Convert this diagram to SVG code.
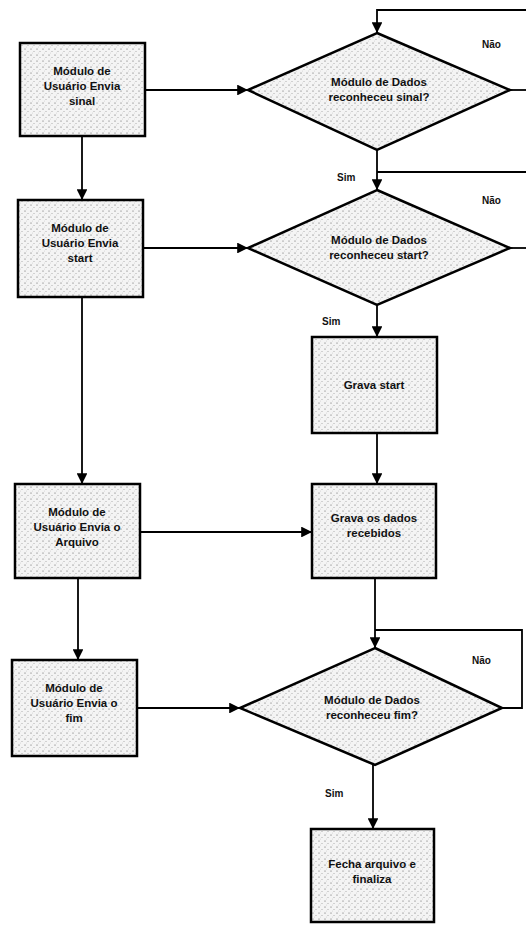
<svg xmlns="http://www.w3.org/2000/svg" width="526" height="925" viewBox="0 0 526 925">
  <defs>
    <pattern id="stipple" width="6" height="6" patternUnits="userSpaceOnUse">
      <rect width="6" height="6" fill="#f4f4f4"/>
      <circle cx="1" cy="1" r="0.55" fill="#555"/>
      <circle cx="4" cy="3.5" r="0.45" fill="#666"/>
      <circle cx="2.5" cy="5" r="0.35" fill="#888"/>
    </pattern>
    <marker id="arrow" viewBox="0 0 10 10" refX="10" refY="5" markerWidth="6" markerHeight="6" orient="auto">
      <path d="M0,0 L10,5 L0,10 z" fill="#000"/>
    </marker>
  </defs>
  <style>
    .box { fill: url(#stipple); stroke: #000; stroke-width: 2.5; }
    .dia { fill: url(#stipple); stroke: #000; stroke-width: 2.5; }
    .lbl { font-family: "Liberation Sans", Arial, sans-serif; font-size: 11.5px; font-weight: bold; fill: #111; text-anchor: middle; }
    .tag { font-family: "Liberation Sans", Arial, sans-serif; font-size: 10px; font-weight: bold; fill: #111; }
    .wire { fill: none; stroke: #000; stroke-width: 1.8; }
  </style>
  <rect width="526" height="925" fill="#fff"/>

  <g id="connectors">
    <line class="wire" x1="145" y1="90" x2="248" y2="90" marker-end="url(#arrow)"/>
    <polyline class="wire" points="510,90 526,90"/>
    <polyline class="wire" points="526,10 377,10 377,33" marker-end="url(#arrow)"/>
    <line class="wire" x1="377" y1="150" x2="377" y2="190" marker-end="url(#arrow)"/>
    <polyline class="wire" points="526,172 377,172"/>
    <polyline class="wire" points="510,248 526,248"/>
    <line class="wire" x1="82" y1="136" x2="82" y2="200" marker-end="url(#arrow)"/>
    <line class="wire" x1="143" y1="248" x2="248" y2="248" marker-end="url(#arrow)"/>
    <line class="wire" x1="377" y1="305" x2="377" y2="337" marker-end="url(#arrow)"/>
    <line class="wire" x1="82" y1="297" x2="82" y2="484" marker-end="url(#arrow)"/>
    <line class="wire" x1="377" y1="433" x2="377" y2="484" marker-end="url(#arrow)"/>
    <line class="wire" x1="140" y1="532" x2="312" y2="532" marker-end="url(#arrow)"/>
    <polyline class="wire" points="375,578 375,648" marker-end="url(#arrow)"/>
    <polyline class="wire" points="502,708 522,708 522,630 375,630"/>
    <line class="wire" x1="78" y1="578" x2="78" y2="660" marker-end="url(#arrow)"/>
    <line class="wire" x1="137" y1="708" x2="240" y2="708" marker-end="url(#arrow)"/>
    <line class="wire" x1="373" y1="765" x2="373" y2="829" marker-end="url(#arrow)"/>
    <text class="tag" x="482" y="48">Não</text>
    <text class="tag" x="337" y="181">Sim</text>
    <text class="tag" x="482" y="204">Não</text>
    <text class="tag" x="322" y="325">Sim</text>
    <text class="tag" x="472" y="664">Não</text>
    <text class="tag" x="325" y="797">Sim</text>
  </g>

  <g id="user-signal">
    <rect class="box" x="20" y="43" width="125" height="93"/>
    <text class="lbl" x="82" y="75">Módulo de</text>
    <text class="lbl" x="82" y="90">Usuário Envia</text>
    <text class="lbl" x="82" y="105">sinal</text>
  </g>

  <g id="check-signal">
    <polygon class="dia" points="377,33 510,90 377,150 248,90"/>
    <text class="lbl" x="379" y="86">Módulo de Dados</text>
    <text class="lbl" x="379" y="101">reconheceu sinal?</text>
  </g>

  <g id="user-start">
    <rect class="box" x="18" y="200" width="125" height="97"/>
    <text class="lbl" x="80" y="232">Módulo de</text>
    <text class="lbl" x="80" y="247">Usuário Envia</text>
    <text class="lbl" x="80" y="262">start</text>
  </g>

  <g id="check-start">
    <polygon class="dia" points="377,190 510,248 377,305 248,248"/>
    <text class="lbl" x="379" y="244">Módulo de Dados</text>
    <text class="lbl" x="379" y="259">reconheceu start?</text>
  </g>

  <g id="save-start">
    <rect class="box" x="312" y="337" width="125" height="96"/>
    <text class="lbl" x="374" y="389">Grava start</text>
  </g>

  <g id="user-file">
    <rect class="box" x="15" y="484" width="125" height="94"/>
    <text class="lbl" x="77" y="516">Módulo de</text>
    <text class="lbl" x="77" y="531">Usuário Envia o</text>
    <text class="lbl" x="77" y="546">Arquivo</text>
  </g>

  <g id="save-data">
    <rect class="box" x="312" y="484" width="124" height="94"/>
    <text class="lbl" x="374" y="522">Grava os dados</text>
    <text class="lbl" x="374" y="537">recebidos</text>
  </g>

  <g id="user-end">
    <rect class="box" x="12" y="660" width="125" height="96"/>
    <text class="lbl" x="74" y="692">Módulo de</text>
    <text class="lbl" x="74" y="707">Usuário Envia o</text>
    <text class="lbl" x="74" y="722">fim</text>
  </g>

  <g id="check-end">
    <polygon class="dia" points="375,648 502,708 375,765 240,708"/>
    <text class="lbl" x="372" y="704">Módulo de Dados</text>
    <text class="lbl" x="372" y="719">reconheceu fim?</text>
  </g>

  <g id="finish">
    <rect class="box" x="311" y="829" width="123" height="93"/>
    <text class="lbl" x="372" y="868">Fecha arquivo e</text>
    <text class="lbl" x="372" y="883">finaliza</text>
  </g>
</svg>
